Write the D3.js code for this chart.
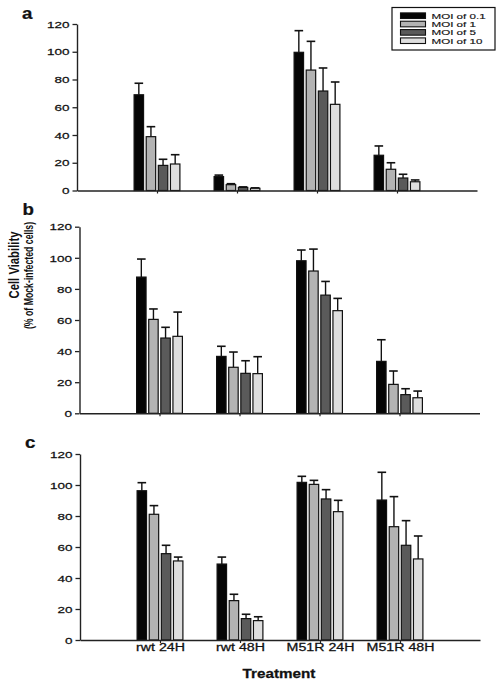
<!DOCTYPE html>
<html><head><meta charset="utf-8">
<script src="https://cdn.jsdelivr.net/npm/d3@7"></script>
<style>body{margin:0;background:#fff}svg{display:block}text{font-family:"Liberation Sans",Arial,sans-serif}</style>
</head><body><svg id="chart" width="502" height="684"></svg>
<script>
// ---- data ----
const categories = ["rwt 24H", "rwt 48H", "M51R 24H", "M51R 48H"];
const series = ["MOI of 0.1", "MOI of 1", "MOI of 5", "MOI of 10"];
const yTicks = [0, 20, 40, 60, 80, 100, 120];
const panelLabels = ["a", "b", "c"];

// panel a
const a_moi01 = [69.0, 10.0, 99.6, 25.4];
const a_moi1  = [38.8, 4.2, 86.8, 15.3];
const a_moi5  = [18.1, 2.2, 71.7, 9.0];
const a_moi10 = [19.1, 1.6, 62.1, 6.3];
const a_err01 = [8.3, 1.1, 15.6, 6.7];
const a_err1  = [7.2, 0.7, 20.7, 4.7];
const a_err5  = [4.4, 0.4, 16.6, 2.7];
const a_err10 = [6.7, 0.3, 16.1, 1.3];
// panel b
const b_moi01 = [87.6, 36.6, 98.1, 33.4];
const b_moi1  = [60.4, 29.6, 91.5, 18.6];
const b_moi5  = [48.4, 25.7, 76.0, 12.0];
const b_moi10 = [49.5, 25.5, 66.0, 10.0];
const b_err01 = [11.6, 6.5, 6.9, 13.9];
const b_err1  = [6.7, 9.8, 14.1, 8.6];
const b_err5  = [6.9, 8.1, 8.8, 3.8];
const b_err10 = [15.6, 10.9, 7.9, 4.3];
// panel c
const c_moi01 = [96.3, 49.0, 101.7, 90.3];
const c_moi1  = [81.1, 25.4, 100.4, 73.1];
const c_moi5  = [55.7, 13.8, 91.0, 61.1];
const c_moi10 = [51.0, 12.5, 82.8, 52.3];
const c_err01 = [5.2, 4.5, 3.9, 17.9];
const c_err1  = [5.6, 4.1, 2.6, 19.4];
const c_err5  = [5.4, 2.8, 6.0, 15.9];
const c_err10 = [2.5, 2.5, 7.3, 14.8];

const panelValues = [[a_moi01, a_moi1, a_moi5, a_moi10], [b_moi01, b_moi1, b_moi5, b_moi10], [c_moi01, c_moi1, c_moi5, c_moi10]];
const panelErrors = [[a_err01, a_err1, a_err5, a_err10], [b_err01, b_err1, b_err5, b_err10], [c_err01, c_err1, c_err5, c_err10]];

// ---- styles / layout ----
const colors = ["#050505", "#b3b3b3", "#5a5a5a", "#dedede"];
const SX = 1.42; // horizontal stretch of text in original
const layouts = [
  {x0: 77, top: 24, bottom: 190.5, lx: 22, ly: 19},
  {x0: 79.5, top: 226.7, bottom: 413.3, lx: 22.5, ly: 215},
  {x0: 80, top: 454, bottom: 640, lx: 25, ly: 448}
];

const svg = d3.select("#chart");

function stretchedText(g, x, y, txt, size, anchor, weight, sx) {
  return g.append("text")
    .attr("transform", `translate(${x},${y}) scale(${sx},1)`)
    .attr("text-anchor", anchor)
    .attr("font-size", size)
    .attr("font-weight", weight || "normal")
    .attr("fill", "#111")
    .attr("stroke", "#111").attr("stroke-width", 0.25)
    .text(txt);
}

layouts.forEach((L, pi) => {
  const g = svg.append("g");
  const x = d3.scaleLinear().domain([0, categories.length + 1]).range([L.x0, L.x0 + 400]);
  const y = d3.scaleLinear().domain([0, 120]).range([L.bottom, L.top]);
  const x1 = d3.scaleBand().domain(series).range([-23.5, 23.5]).paddingInner(0.12);

  // bars
  series.forEach((s, si) => {
    const vals = panelValues[pi][si];
    const errs = panelErrors[pi][si];
    const sg = g.append("g");
    sg.selectAll("line.err").data(categories).join("line")
      .attr("x1", (c, ci) => x(ci + 1) + x1(s) + x1.bandwidth() / 2)
      .attr("x2", (c, ci) => x(ci + 1) + x1(s) + x1.bandwidth() / 2)
      .attr("y1", (c, ci) => y(vals[ci]))
      .attr("y2", (c, ci) => y(vals[ci] + errs[ci]))
      .attr("stroke", "#111").attr("stroke-width", 1.4);
    sg.selectAll("line.cap").data(categories).join("line")
      .attr("x1", (c, ci) => x(ci + 1) + x1(s) + x1.bandwidth() / 2 - 4.3)
      .attr("x2", (c, ci) => x(ci + 1) + x1(s) + x1.bandwidth() / 2 + 4.3)
      .attr("y1", (c, ci) => y(vals[ci] + errs[ci]))
      .attr("y2", (c, ci) => y(vals[ci] + errs[ci]))
      .attr("stroke", "#111").attr("stroke-width", 1.6);
    sg.selectAll("rect").data(categories).join("rect")
      .attr("x", (c, ci) => x(ci + 1) + x1(s) + 0.6)
      .attr("width", x1.bandwidth() - 1.2)
      .attr("y", (c, ci) => y(vals[ci]))
      .attr("height", (c, ci) => y(0) - y(vals[ci]))
      .attr("fill", colors[si])
      .attr("stroke", "#111").attr("stroke-width", 1.2);
  });

  // y axis
  const ya = g.append("g").attr("transform", `translate(${L.x0},0)`)
    .call(d3.axisLeft(y).tickValues(yTicks).tickSize(4.5).tickPadding(0).tickSizeOuter(0));
  ya.select(".domain").attr("stroke", "#222").attr("stroke-width", 1.4);
  ya.selectAll(".tick line").attr("stroke", "#222").attr("stroke-width", 1.3);
  ya.selectAll(".tick text")
    .attr("font-size", 9.5).attr("font-family", "Liberation Sans, Arial, sans-serif")
    .attr("fill", "#111").attr("stroke", "#111").attr("stroke-width", 0.25)
    .attr("x", -7.5 / SX).attr("dy", "0.34em")
    .attr("transform", `scale(${SX},1)`);

  // x axis
  const xa = g.append("g").attr("transform", `translate(0,${L.bottom})`)
    .call(d3.axisBottom(x).tickValues(d3.range(1, categories.length + 1)).tickSize(3).tickSizeOuter(0)
      .tickFormat((d) => pi === 2 ? categories[d - 1] : ""));
  xa.select(".domain").attr("stroke", "#222").attr("stroke-width", 1.4);
  xa.selectAll(".tick line").attr("stroke", "#222").attr("stroke-width", 1.2);
  xa.selectAll(".tick text")
    .attr("font-size", 10).attr("font-family", "Liberation Sans, Arial, sans-serif")
    .attr("fill", "#111").attr("stroke", "#111").attr("stroke-width", 0.25)
    .attr("y", 0).attr("dy", 0)
    .attr("transform", `translate(0,10.5) scale(${SX},1)`);

  // panel letter
  stretchedText(g, L.lx, L.ly, panelLabels[pi], 17, "start", "bold", 1.1);
});

// x title
stretchedText(svg, 279, 677.5, "Treatment", 12, "middle", "bold", 1.27);

// y title (rotated; thickened like the stretched original)
svg.append("text").attr("transform", "translate(18.5,265) rotate(-90) scale(1.0,1.3)")
  .attr("text-anchor", "middle").attr("font-size", 11.3).attr("font-weight", "bold").attr("fill", "#111")
  .text("Cell Viability");
svg.append("text").attr("transform", "translate(33,275.5) rotate(-90) scale(0.92,1.3)")
  .attr("text-anchor", "middle").attr("font-size", 9.5).attr("font-weight", "bold").attr("fill", "#111")
  .text("(% of Mock-infected cells)");

// legend
const lg = svg.append("g");
lg.append("rect").attr("x", 392).attr("y", 7.5).attr("width", 103).attr("height", 42.5)
  .attr("fill", "#fff").attr("stroke", "#111").attr("stroke-width", 1.2);
const ly = d3.scalePoint().domain(series).range([15.7, 40.7]);
series.forEach((s, si) => {
  lg.append("rect").attr("x", 400.5).attr("y", ly(s) - 2.8).attr("width", 25).attr("height", 5.6)
    .attr("fill", colors[si]).attr("stroke", "#111").attr("stroke-width", 1.1);
  stretchedText(lg, 431.5, ly(s) + 2.9, s, 8, "start", "normal", 1.45).attr("stroke-width", 0.15);
});
</script></body></html>
